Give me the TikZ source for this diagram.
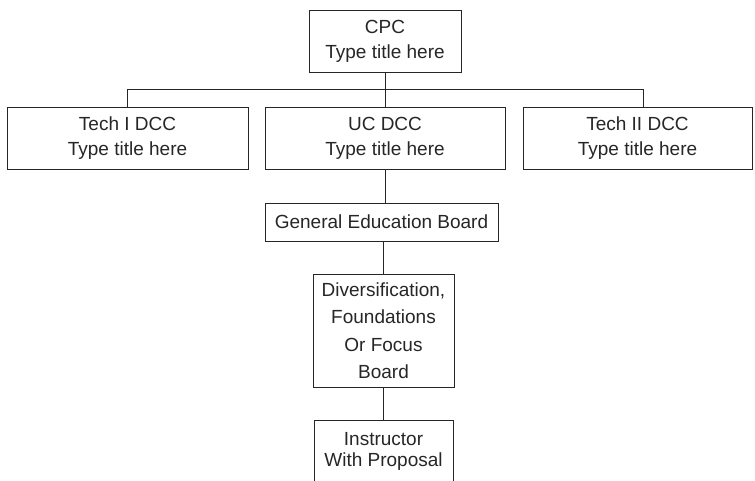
\documentclass[tikz,border=0pt]{standalone}
\usepackage{fontspec}
\setmainfont{Liberation Sans}
\begin{document}
\begin{tikzpicture}[x=1pt,y=-1pt,
  box/.style={draw=black!85, line width=0.9pt, align=center, inner sep=0pt,
    font=\fontsize{19}{25}\selectfont, text=black!85},
  conn/.style={draw=black!85, line width=0.8pt}]
\useasboundingbox (0,0) rectangle (755,481);
\clip (0,0) rectangle (755,481);
\node[box, minimum width=152, minimum height=62] (cpc) at (385,41) {CPC\\Type title here};
\node[box, minimum width=241, minimum height=62] (tech1) at (127.5,138) {Tech I DCC\\Type title here};
\node[box, minimum width=240, minimum height=62] (uc) at (385,138) {UC DCC\\Type title here};
\node[box, minimum width=229, minimum height=62] (tech2) at (637.5,138) {Tech II DCC\\Type title here};
\node[box, minimum width=233, minimum height=38] (geb) at (381.5,222) {General Education Board};
\node[box, minimum width=141, minimum height=113, font=\fontsize{19}{27.5}\selectfont] (dfof) at (383.5,330.5) {Diversification,\\Foundations\\Or Focus\\Board};
\node[box, minimum width=139, minimum height=90, anchor=north] (instr) at (383.5,420) {};
\node[font=\fontsize{19}{21}\selectfont, text=black!85, align=center, anchor=north, inner sep=0pt] (instrtxt) at (383.5,432) {Instructor\\With Proposal};
\coordinate (busL) at (127.5,89);
\coordinate (busR) at (643,89);
\draw[conn] (busL) -- (busR);
\draw[conn] (cpc.south) -- (uc.north);
\draw[conn] (busL) -- (tech1.north);
\draw[conn] (busR) -- (busR |- tech2.north);
\draw[conn] (uc.south) -- (uc.south |- geb.north);
\draw[conn] (geb.south -| dfof.north) -- (dfof.north);
\draw[conn] (dfof.south) -- (instr.north);
\end{tikzpicture}
\end{document}
